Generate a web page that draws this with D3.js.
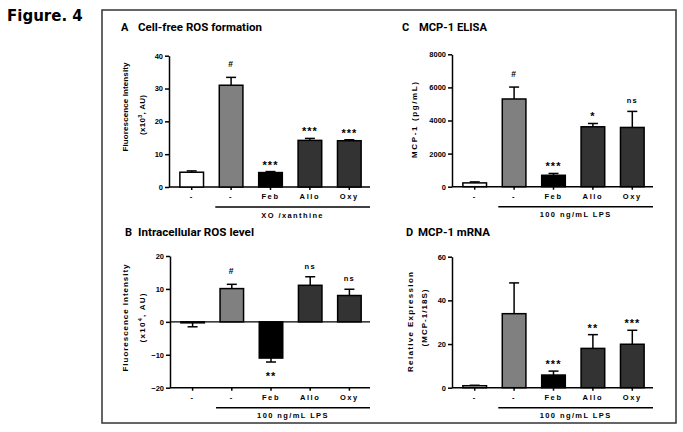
<!DOCTYPE html>
<html>
<head>
<meta charset="utf-8">
<script src="https://cdn.jsdelivr.net/npm/d3@7"></script>
<style>
  html, body { margin: 0; padding: 0; background: #fff; }
  svg { display: block; }
  .tiny { font-family: "Liberation Sans", Arial, sans-serif; font-weight: bold; }
</style>
</head>
<body>
<svg id="chart" width="683" height="432"></svg>
<script>
// ---------------- DATA ----------------
const categories = ["-", "-", "Feb", "Allo", "Oxy"];

// Panel A: Cell-free ROS formation (x10^3 AU)
const rosFreeMean = [4.5, 31.0, 4.4, 14.2, 14.1];
const rosFreeErr  = [0.4, 2.4, 0.3, 0.6, 0.3];
const rosFreeSig  = ["", "#", "***", "***", "***"];
const rosFreeTicks = [0, 10, 20, 30, 40];

// Panel B: Intracellular ROS level (x10^4 AU)
const rosCellMean = [-0.3, 10.1, -11.0, 11.1, 8.0];
const rosCellErr  = [1.2, 1.3, 1.2, 2.6, 1.9];
const rosCellSig  = ["", "#", "**", "ns", "ns"];
const rosCellTicks = [-20, -10, 0, 10, 20];

// Panel C: MCP-1 ELISA (pg/mL)
const elisaMean = [230, 5300, 690, 3620, 3580];
const elisaErr  = [60, 720, 110, 200, 970];
const elisaSig  = ["", "#", "***", "*", "ns"];
const elisaTicks = [0, 2000, 4000, 6000, 8000];

// Panel D: MCP-1 mRNA (relative expression)
const mrnaMean = [0.9, 33.9, 5.8, 18.0, 19.9];
const mrnaErr  = [0.2, 14.1, 1.8, 6.3, 6.4];
const mrnaSig  = ["", "", "***", "**", "***"];
const mrnaTicks = [0, 20, 40, 60];

const barColors = ["#ffffff", "#808080", "#000000", "#333333", "#333333"];

// ---------------- DRAW ----------------
const svg = d3.select("#chart");

// Figure label
svg.append("text").attr("x", 7).attr("y", 21)
  .attr("font-family", "DejaVu Sans, Verdana, sans-serif")
  .attr("font-weight", "bold").attr("font-size", 15).text("Figure. 4");

// Outer frame
svg.append("rect").attr("x", 102).attr("y", 10).attr("width", 574).attr("height", 413)
  .attr("fill", "none").attr("stroke", "#333").attr("stroke-width", 1.5);

const panels = [
  { letter: "A", title: "Cell-free ROS formation", tlen: 124, lx: 121, tx: 138, ty: 31,
    mean: rosFreeMean, err: rosFreeErr, sig: rosFreeSig, ticks: rosFreeTicks,
    x0: 169, x1: 370, yBot: 187, yTop: 55.7, group: "XO /xanthine",
    ylab: [{ text: ["Fluorescence Intensity"], x: 125, cy: 107, len: 89 },
           { text: ["(x10", "3", ", AU)"], x: 142, cy: 115, len: 40 }] },
  { letter: "B", title: "Intracellular ROS level", tlen: 116, lx: 125, tx: 138, ty: 236,
    mean: rosCellMean, err: rosCellErr, sig: rosCellSig, ticks: rosCellTicks,
    x0: 170, x1: 370, yBot: 387.7, yTop: 256, group: "100 ng/mL LPS", zero: true,
    ylab: [{ text: ["Fluorescence Intensity"], x: 125, cy: 318, len: 107 },
           { text: ["(x10", "4", ", AU)"], x: 142, cy: 318, len: 49 }] },
  { letter: "C", title: "MCP-1 ELISA", tlen: 68, lx: 402, tx: 419, ty: 31,
    mean: elisaMean, err: elisaErr, sig: elisaSig, ticks: elisaTicks,
    x0: 452, x1: 653, yBot: 186.7, yTop: 54.3, group: "100 ng/mL LPS",
    ylab: [{ text: ["MCP-1 (pg/mL)"], x: 414, cy: 120, len: 76 }] },
  { letter: "D", title: "MCP-1 mRNA", tlen: 72, lx: 406, tx: 418, ty: 236,
    mean: mrnaMean, err: mrnaErr, sig: mrnaSig, ticks: mrnaTicks,
    x0: 452, x1: 653, yBot: 387.7, yTop: 256.7, group: "100 ng/mL LPS",
    ylab: [{ text: ["Relative Expression"], x: 410, cy: 322, len: 100 },
           { text: ["(MCP-1/18S)"], x: 424, cy: 318, len: 57 }] }
];

panels.forEach(p => {
  const g = svg.append("g");

  // Titles
  g.append("text").attr("x", p.lx).attr("y", p.ty)
    .attr("font-family", "Roboto, Arial, sans-serif").attr("font-weight", "bold")
    .attr("font-size", 11).text(p.letter);
  g.append("text").attr("x", p.tx).attr("y", p.ty)
    .attr("font-family", "Roboto, Arial, sans-serif").attr("font-weight", "bold")
    .attr("font-size", 11).attr("textLength", p.tlen)
    .attr("lengthAdjust", "spacingAndGlyphs").text(p.title);

  const ext = d3.extent(p.ticks);
  const y = d3.scaleLinear().domain(ext).range([p.yBot, p.yTop]);
  const x = d3.scaleBand().domain(d3.range(categories.length))
    .range([p.x0 + 3, p.x1 - 1]).paddingInner(0.4).paddingOuter(0.2);

  // Y axis
  const ya = g.append("g").attr("transform", `translate(${p.x0},0)`)
    .call(d3.axisLeft(y).tickValues(p.ticks).tickFormat(d3.format("d"))
      .tickSize(4).tickSizeOuter(0).tickPadding(2));
  ya.selectAll("path, line").attr("stroke", "#000").attr("stroke-width", 1.5);
  ya.selectAll("text").attr("class", "tiny").attr("font-size", 7.5).attr("fill", "#000");

  // X axis (ticks + labels)
  const xa = g.append("g").attr("transform", `translate(0,${p.yBot})`)
    .call(d3.axisBottom(x).tickSize(3).tickSizeOuter(0).tickPadding(4)
      .tickFormat(i => categories[i]));
  xa.select(".domain").remove();
  xa.selectAll("line").attr("stroke", "#000").attr("stroke-width", 1.5);
  xa.selectAll("text").attr("class", "tiny").attr("font-size", 7.5)
    .attr("letter-spacing", 1.6).attr("fill", "#000");
  // baseline of x axis
  g.append("line").attr("x1", p.x0).attr("x2", p.x1)
    .attr("y1", y(ext[0])).attr("y2", y(ext[0]))
    .attr("stroke", "#000").attr("stroke-width", 1.5);

  if (p.zero) {
    g.append("line").attr("x1", p.x0).attr("x2", p.x1)
      .attr("y1", y(0)).attr("y2", y(0))
      .attr("stroke", "#000").attr("stroke-width", 1.2);
  }

  // Error bars (outward)
  const idx = d3.range(categories.length);
  idx.forEach(i => {
    const v = p.mean[i], e = p.err[i];
    const tip = v >= 0 ? v + e : v - e;
    const cx = x(i) + x.bandwidth() / 2;
    g.append("line").attr("x1", cx).attr("x2", cx).attr("y1", y(v)).attr("y2", y(tip))
      .attr("stroke", "#000").attr("stroke-width", 1.5);
    g.append("line").attr("x1", cx - 5).attr("x2", cx + 5).attr("y1", y(tip)).attr("y2", y(tip))
      .attr("stroke", "#000").attr("stroke-width", 1.5);
  });

  // Bars
  g.selectAll("rect.bar").data(idx).enter().append("rect").attr("class", "bar")
    .attr("x", i => x(i))
    .attr("width", x.bandwidth())
    .attr("y", i => y(Math.max(0, p.mean[i])))
    .attr("height", i => Math.abs(y(p.mean[i]) - y(0)))
    .attr("fill", i => barColors[i])
    .attr("stroke", "#000").attr("stroke-width", 1.5);

  // Significance labels
  idx.forEach(i => {
    const s = p.sig[i];
    if (!s) return;
    const v = p.mean[i], e = p.err[i];
    const cx = x(i) + x.bandwidth() / 2;
    const isStar = s.indexOf("*") >= 0;
    let yy;
    if (v >= 0) {
      const cap = y(v + e);
      yy = isStar ? cap - 3 : (s === "#" ? cap - 10 : cap - 8);
    } else {
      const cap = y(v - e);
      yy = cap + 18;
    }
    g.append("text").attr("x", cx).attr("y", yy).attr("text-anchor", "middle")
      .attr("class", "tiny")
      .attr("font-size", isStar ? 11 : (s === "#" ? 8.5 : 7.5))
      .attr("letter-spacing", isStar ? 1 : 1.2)
      .attr("fill", "#000").text(s);
  });

  // Group bracket line + label
  const gx0 = x(1) - 4;
  g.append("line").attr("x1", gx0).attr("x2", p.x1)
    .attr("y1", y(ext[0]) + 20).attr("y2", y(ext[0]) + 20)
    .attr("stroke", "#000").attr("stroke-width", 1.5);
  g.append("text").attr("x", (gx0 + p.x1) / 2).attr("y", y(ext[0]) + 30.5)
    .attr("text-anchor", "middle").attr("class", "tiny").attr("font-size", 7.5)
    .attr("letter-spacing", 1.4).attr("fill", "#000").text(p.group);

  // Y axis titles
  p.ylab.forEach(l => {
    const t = g.append("text")
      .attr("transform", `translate(${l.x},${l.cy}) rotate(-90)`)
      .attr("text-anchor", "middle").attr("dy", "0.35em")
      .attr("class", "tiny").attr("font-size", 8).attr("fill", "#000")
      .attr("textLength", l.len).attr("lengthAdjust", "spacing");
    if (l.text.length === 1) {
      t.text(l.text[0]);
    } else {
      t.append("tspan").text(l.text[0]);
      t.append("tspan").attr("dy", -3).attr("font-size", 5.5).text(l.text[1]);
      t.append("tspan").attr("dy", 3).text(l.text[2]);
    }
  });
});
</script>
</body>
</html>
